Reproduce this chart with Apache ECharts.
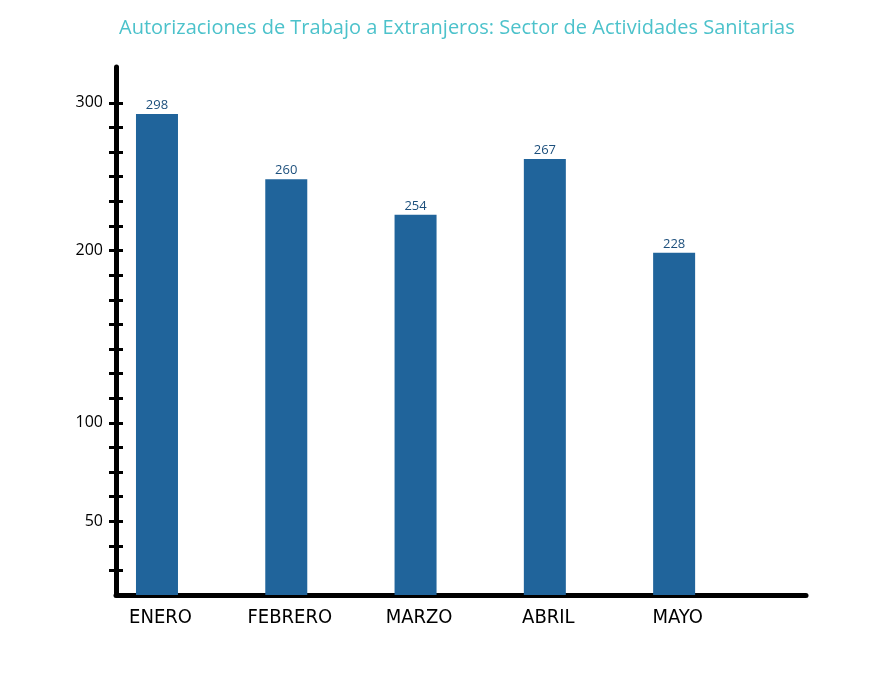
<!DOCTYPE html>
<html>
<head>
<meta charset="utf-8">
<script src="https://cdn.jsdelivr.net/npm/echarts@6/dist/echarts.min.js"></script>
<style>html,body{margin:0;padding:0;background:#fff;}#c{width:879px;height:680px;}</style>
</head>
<body>
<div id="c"></div>
<script>
// Data
var categories = ['ENERO', 'FEBRERO', 'MARZO', 'ABRIL', 'MAYO'];
var values = [298, 260, 254, 267, 228];            // printed values
var barLevels = [19.55, 16.9, 15.45, 17.72, 13.91]; // bar heights read on the drawn y-axis tick scale
var yTickPositions = [1,2,3,4,5,6,7,8,9,10,11,12,13,14,15,16,17,18,19,20];
var yLabelPositions = [3, 7, 14, 20];
var yLabelTexts = ['50', '100', '200', '300'];

var chart = echarts.init(document.getElementById('c'), null, {renderer: 'canvas'});
var barData = barLevels.map(function (h, i) { return [i, h]; });

var yBase = {
  type: 'value', min: 0, max: 21.46, interval: 1, position: 'left',
  splitLine: {show: false}
};

chart.setOption({
  animation: false,
  backgroundColor: '#ffffff',
  title: {
    text: 'Autorizaciones de Trabajo a Extranjeros: Sector de Actividades Sanitarias',
    left: 114, top: 13,
    textStyle: {color: '#4cc2cb', fontSize: 20, fontWeight: 'normal', fontFamily: 'Open Sans'}
  },
  grid: {left: 116, right: 73, top: 67, bottom: 85, containLabel: false, outerBoundsMode: 'none'},
  xAxis: {
    type: 'value', min: -0.317, max: 5.02,
    axisLine: {show: true, onZero: false, lineStyle: {color: '#000', width: 5}},
    axisTick: {show: false},
    splitLine: {show: false},
    axisLabel: {
      customValues: [0, 1, 2, 3, 4],
      formatter: function (v) { return categories[Math.round(v)]; },
      color: '#000', fontSize: 20, fontFamily: 'DejaVu Sans Condensed',
      padding: [0, 0, 0, 7],
      margin: 13
    }
  },
  yAxis: [
    Object.assign({}, yBase, {
      axisLine: {show: true, onZero: false, lineStyle: {color: '#000', width: 5}},
      axisTick: {show: true, customValues: yTickPositions, length: 7, lineStyle: {color: '#000', width: 3}},
      axisLabel: {
        customValues: yLabelPositions,
        formatter: function (v) { var k = yLabelPositions.indexOf(Math.round(v)); return k >= 0 ? yLabelTexts[k] : ''; },
        color: '#000', fontSize: 16, fontFamily: 'Open Sans', margin: 13
      }
    }),
    Object.assign({}, yBase, {
      axisLine: {show: false, onZero: false},
      axisTick: {show: true, inside: true, customValues: yTickPositions, length: 7, lineStyle: {color: '#000', width: 3}},
      axisLabel: {show: false}
    })
  ],
  series: [{
    type: 'bar',
    yAxisIndex: 0,
    data: barData,
    barWidth: 42,
    z: 1,
    itemStyle: {color: '#20649b'},
    label: {
      show: true, position: 'top', distance: 2,
      formatter: function (p) { return String(values[p.dataIndex]); },
      color: '#1c4f7c', fontSize: 13, fontFamily: 'Open Sans'
    }
  }]
});
</script>
</body>
</html>
